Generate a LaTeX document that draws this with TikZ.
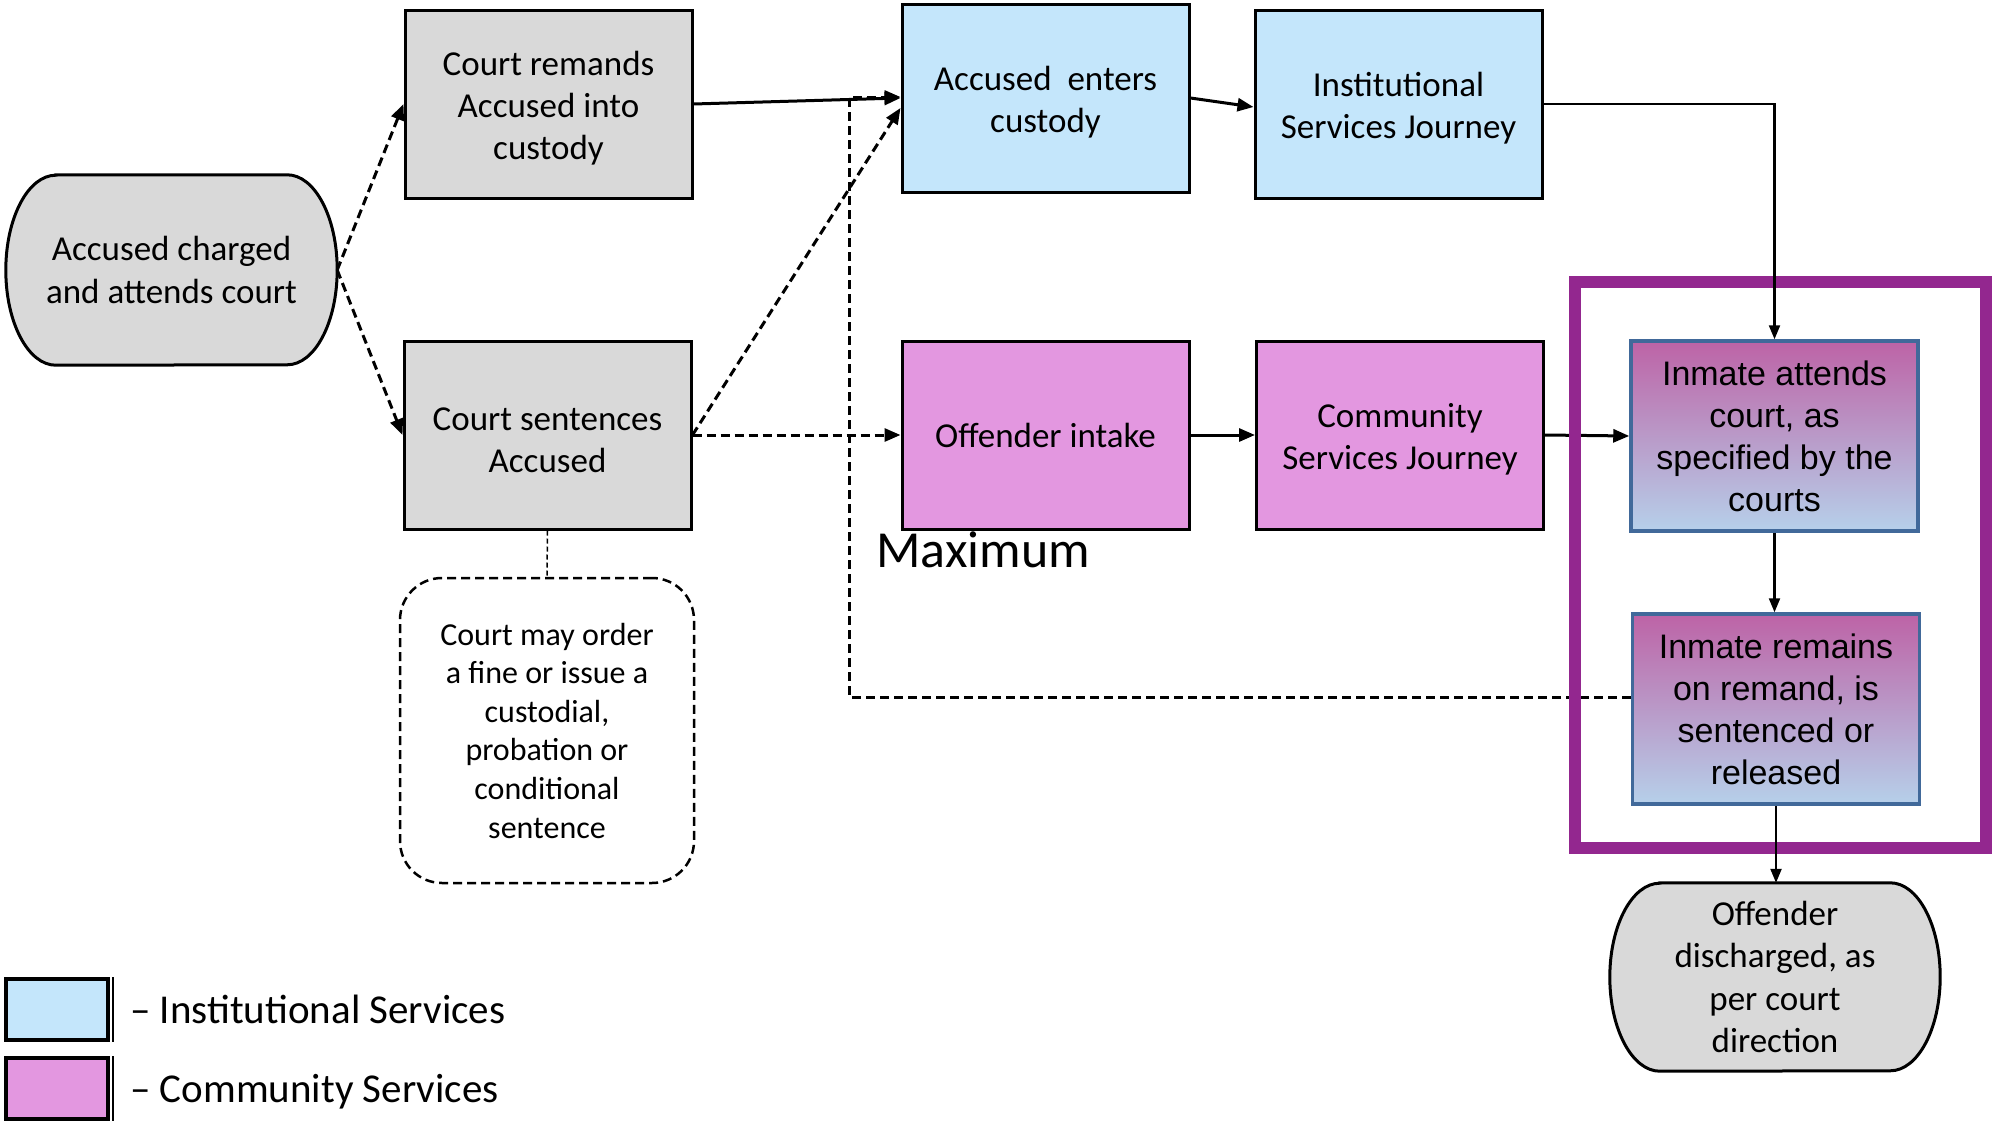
\documentclass[tikz,border=0pt]{standalone}
\usepackage{fontspec}
\setmainfont{Carlito}
\newfontfamily\arialf{Liberation Sans}
\usetikzlibrary{arrows.meta,backgrounds}
\definecolor{boxgray}{HTML}{D9D9D9}
\definecolor{boxblue}{HTML}{C4E6FB}
\definecolor{boxpink}{HTML}{E397E0}
\definecolor{framepurple}{HTML}{93278F}
\definecolor{gradtop}{HTML}{BD63A6}
\definecolor{gradmid}{HTML}{B3A6D2}
\definecolor{gradbot}{HTML}{B6D0EA}
\definecolor{inmateborder}{HTML}{41699A}
\newcommand\myliftstrut{\rule{0pt}{33pt}}
\begin{document}
\begin{tikzpicture}[x=1pt,y=-1pt,
  box/.style={draw=black, line width=3pt, minimum width=287pt, minimum height=188pt,
    inner sep=0pt, align=center, font=\fontsize{35}{42}\selectfont},
  graybox/.style={box, fill=boxgray},
  bluebox/.style={box, fill=boxblue},
  pinkbox/.style={box, fill=boxpink},
  inmate/.style={draw=inmateborder, line width=3.5pt, top color=gradtop, middle color=gradmid,
    bottom color=gradbot, minimum width=287pt, minimum height=190pt, inner sep=0pt,
    align=center, font=\arialf\fontsize{34}{42}\selectfont},
  term/.style={inner sep=0pt, align=center, font=\fontsize{35}{42.5}\selectfont},
  termline/.style={draw=black, line width=3pt, fill=boxgray},
  notebox/.style={draw=black, line width=2.5pt, dash pattern=on 9pt off 5pt, rounded corners=42pt,
    minimum width=294pt, minimum height=305pt, inner sep=0pt, align=center,
    font=\fontsize{32}{38.6}\selectfont},
  conn/.style={line width=3pt, -{Triangle[length=16pt,width=13pt]}},
  dconn/.style={conn, dash pattern=on 9pt off 5pt},
  thinconn/.style={line width=2.2pt, -{Triangle[length=14pt,width=11pt]}},
  legbox/.style={draw=black, line width=3.5pt, minimum width=102pt, minimum height=61pt, inner sep=0pt},
  legtext/.style={anchor=base west, inner sep=0pt, font=\fontsize{41}{49}\selectfont}
]
\useasboundingbox (0,0) rectangle (1992,1127);

% terminators
\node[term, minimum width=331pt, minimum height=190pt] (charged) at (171.5,270) {Accused charged\\and attends court};
\node[term, minimum width=330pt, minimum height=188pt] (discharged) at (1775,977) {Offender\\discharged, as\\per court\\direction};
\begin{scope}[on background layer]
  \path[termline] ([xshift=50pt]charged.north west) -- ([xshift=-50pt]charged.north east)
    arc[start angle=90, end angle=-90, x radius=50pt, y radius=95pt]
    -- ([xshift=50pt]charged.south west)
    arc[start angle=270, end angle=90, x radius=50pt, y radius=95pt] -- cycle;
  \path[termline] ([xshift=50pt]discharged.north west) -- ([xshift=-50pt]discharged.north east)
    arc[start angle=90, end angle=-90, x radius=50pt, y radius=94pt]
    -- ([xshift=50pt]discharged.south west)
    arc[start angle=270, end angle=90, x radius=50pt, y radius=94pt] -- cycle;
\end{scope}

% boxes
\node[graybox] (remands) at (548.5,104) {\myliftstrut Court remands\\Accused into\\custody};
\node[graybox] (sentences) at (547.5,435) {\myliftstrut Court sentences\\Accused};
\node[notebox] (note) at (547,730.5) {Court may order\\a fine or issue a\\custodial,\\probation or\\conditional\\sentence};
\node[bluebox] (enters) at (1045.5,98) {\myliftstrut Accused\ \ enters\\custody};
\node[bluebox] (isj) at (1398.5,104) {\myliftstrut Institutional\\Services Journey};
\node[pinkbox] (intake) at (1045.5,435) {Offender intake};
\node[pinkbox] (csj) at (1400,435) {\myliftstrut Community\\Services Journey};
\node[inmate] (attends) at (1774.5,436) {Inmate attends\\court, as\\specified by the\\courts};
\node[inmate] (remains) at (1776,709) {Inmate remains\\on remand, is\\sentenced or\\released};

\node[anchor=base west, inner sep=0pt, font=\fontsize{52}{62}\selectfont] (maxlabel) at (876,567) {Maximum};

% connectors
\coordinate (loopx) at (849,0);
\draw[dconn] (charged.east) -- (remands.west);
\draw[dconn] (charged.east) -- (sentences.west);
\draw[line width=1.5pt, dash pattern=on 5pt off 3pt] (sentences.south) -- (note.north);
\draw[dconn] ([yshift=12pt]remains.west) -| ([yshift=1pt]loopx |- enters.west) -- ([yshift=1pt]enters.west);
\draw[conn] (remands.east) -- (enters.west);
\draw[dconn] (sentences.east) -- ([yshift=-10pt]enters.west);
\draw[dconn] (sentences.east) -- (intake.west);
\draw[conn] (enters.east) -- ([yshift=-3pt]isj.west);
\draw[conn] (intake.east) -- (csj.west);
\draw[conn] (csj.east) -- (attends.west);

% purple frame
\node[draw=framepurple, line width=12pt, minimum width=411pt, minimum height=566pt, inner sep=0pt] (frame) at (1780.5,565) {};

\draw[thinconn] (isj.east) -| (attends.north);
\draw[thinconn] (attends.south) -- (attends.south |- remains.north);
\draw[thinconn] (remains.south) -- (remains.south |- discharged.north);

% legend
\node[legbox, fill=boxblue] (legI) at (57,1009.5) {};
\node[legbox, fill=boxpink] (legC) at (57,1088.5) {};
\draw[line width=1.5pt] ([xshift=3pt]legI.north east) -- ([xshift=3pt]legI.south east);
\draw[line width=1.5pt] ([xshift=3pt]legC.north east) -- ([xshift=3pt]legC.south east);
\node[legtext] (legIt) at (130,1023) {– Institutional Services};
\node[legtext] (legCt) at (130,1102) {– Community Services};
\end{tikzpicture}
\end{document}
